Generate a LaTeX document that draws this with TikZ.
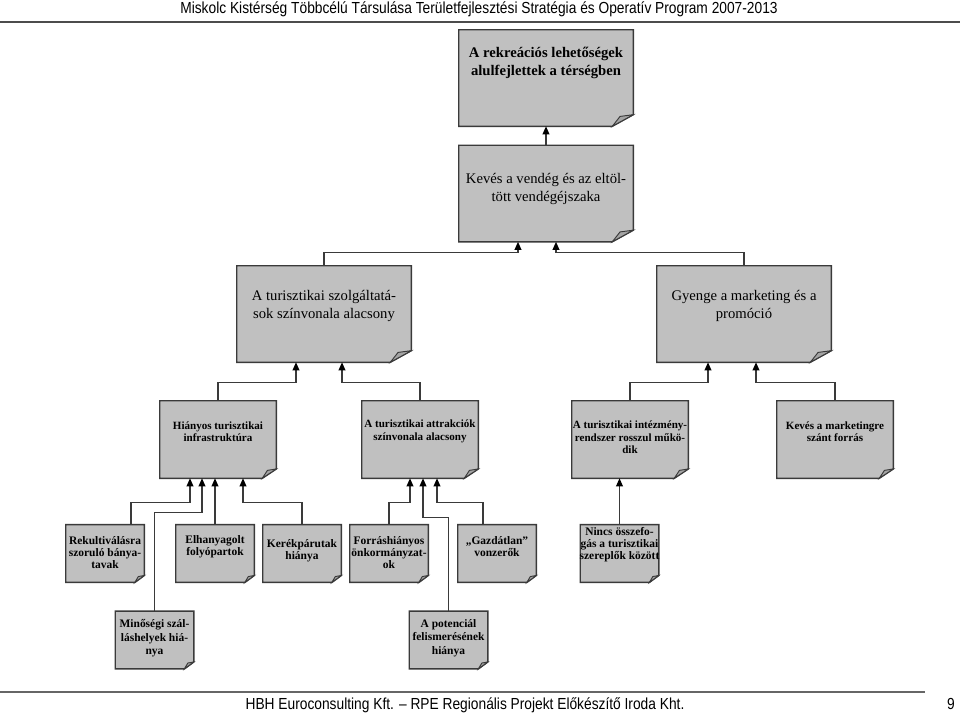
\documentclass[tikz,border=0pt]{standalone}
\usepackage{fontspec}
\setmainfont{Liberation Serif}
\newfontfamily\narrowsans[FakeStretch=0.86]{Liberation Sans}
\usetikzlibrary{arrows.meta, calc}

\definecolor{boxgray}{HTML}{C0C0C0}
\definecolor{foldgray}{HTML}{A4A4A4}
\definecolor{linegray}{HTML}{3A3A3A}

\tikzstyle{bignote} = [rectangle, inner sep=0pt, minimum width=130.5pt, minimum height=72pt, fill=boxgray]
\tikzstyle{midnote} = [rectangle, inner sep=0pt, minimum width=87pt, minimum height=57.75pt, fill=boxgray]
\tikzstyle{smallnote} = [rectangle, inner sep=0pt, minimum width=58.5pt, minimum height=43pt, fill=boxgray]
\tikzstyle{border} = [line width=1.1pt, draw=linegray, line join=miter]
\tikzstyle{bigtext} = [align=center, inner sep=0pt, font=\fontsize{11}{13.5}\selectfont]
\tikzstyle{midtext} = [align=center, inner sep=0pt, font=\bfseries\fontsize{8.3}{9.4}\selectfont]
\tikzstyle{smalltext} = [align=center, inner sep=0pt, font=\bfseries\fontsize{8.6}{9}\selectfont]
\tikzstyle{lowtext} = [align=center, inner sep=0pt, font=\bfseries\fontsize{8.6}{10}\selectfont]
\tikzstyle{arrow} = [line width=1pt, draw=linegray, -{Triangle[length=6pt, width=5pt, color=black]}]

\begin{document}
\begin{tikzpicture}[x=0.75pt, y=-0.75pt]
	\useasboundingbox (0,0) rectangle (960,714);

	% header and footer
	\node (head) [font=\narrowsans\fontsize{12}{14}\selectfont] at (479,9) {Miskolc Kistérség Többcélú Társulása Területfejlesztési Stratégia és Operatív Program 2007-2013};
	\draw [line width=1.5pt, draw=black!70] (0,22) -- (960,22);
	\draw [line width=1.2pt, draw=black!60] (0,692) -- (925,692);
	\node (foot) [font=\narrowsans\fontsize{12}{14}\selectfont] at (465,705) {HBH Euroconsulting Kft. – RPE Regionális Projekt Előkészítő Iroda Kht.};
	\node (page) [font=\narrowsans\fontsize{12}{14}\selectfont] at (951,704) {9};

	% boxes
	\node (rekr) [bignote] at (546,78) {};
	\node (kev) [bignote] at (546,193.5) {};
	\node (szolg) [bignote] at (324,314) {};
	\node (gyenge) [bignote] at (744,314) {};
	\node (hian) [midnote] at (218,439.5) {};
	\node (attr) [midnote] at (420,439.5) {};
	\node (intez) [midnote] at (630,439.5) {};
	\node (kevmark) [midnote] at (835,439.5) {};
	\node (rekult) [smallnote] at (105,553.5) {};
	\node (elhany) [smallnote] at (215,553.5) {};
	\node (kerek) [smallnote] at (302,553.5) {};
	\node (forras) [smallnote] at (389,553.5) {};
	\node (gazd) [smallnote] at (497,553.5) {};
	\node (nincs) [smallnote] at (619.5,553.5) {};
	\node (minos) [smallnote] at (154.5,640) {};
	\node (potenc) [smallnote] at (448.5,640) {};

	% folded corners
	\foreach \n in {rekr,kev,szolg,gyenge,hian,attr,intez,kevmark,rekult,elhany,kerek,forras,gazd,nincs,minos,potenc} {
		\coordinate (fa) at ($(\n.south east)!0.12!(\n.south west)$);
		\coordinate (fb) at ($(\n.south east)!0.12!(\n.north east)$);
		\fill [white] (fa) -- (\n.south east) -- (fb) -- cycle;
		\draw [border] (\n.north west) -- (\n.north east) -- (fb) -- (fa) -- (\n.south west) -- cycle;
		\draw [border, line width=0.7pt, fill=foldgray] (fa) -- ($(\n.south east)!0.63!(fa) + 0.85*(fb) - 0.85*(\n.south east)$) -- (fb) -- cycle;
	}

	% texts
	\node (rekrt) [bigtext, font=\bfseries\fontsize{11}{13.5}\selectfont] at (546,62.5) {A rekreációs lehetőségek\\alulfejlettek a térségben};
	\node (kevt) [bigtext] at (546,189) {Kevés a vendég és az eltöl-\\tött vendégéjszaka};
	\node (szolgt) [bigtext] at (324,306) {A turisztikai szolgáltatá-\\sok színvonala alacsony};
	\node (gyenget) [bigtext] at (744,306) {Gyenge a marketing és a\\promóció};
	\node (hiant) [midtext] at (218,431.5) {Hiányos turisztikai\\infrastruktúra};
	\node (attrt) [midtext] at (420,431.5) {A turisztikai attrakciók\\színvonala alacsony};
	\node (intezt) [midtext] at (630,437.5) {A turisztikai intézmény-\\rendszer rosszul műkö-\\dik};
	\node (kevmarkt) [midtext] at (835,431.5) {Kevés a marketingre\\szánt forrás};
	\node (rekultt) [smalltext] at (105,552.5) {Rekultiválásra\\szoruló bánya-\\tavak};
	\node (elhanyt) [smalltext] at (215,546.5) {Elhanyagolt\\folyópartok};
	\node (kerekt) [smalltext] at (302,550.5) {Kerékpárutak\\hiánya};
	\node (forrast) [smalltext] at (389,553) {Forráshiányos\\önkormányzat-\\ok};
	\node (gazdt) [smalltext] at (497,547) {„Gazdátlan”\\vonzerők};
	\node (nincst) [smalltext] at (619.5,545) {Nincs összefo-\\gás a turisztikai\\szereplők között};
	\node (minost) [lowtext] at (154.5,638.5) {Minőségi szál-\\láshelyek hiá-\\nya};
	\node (potenct) [lowtext] at (448.5,638) {A potenciál\\felismerésének\\hiánya};

	% connectors
	\draw [arrow] (kev.north) -- (rekr.south);
	\draw [arrow] (szolg.north) |- ($(kev.south)+(-28,11)$) -- ($(kev.south)+(-28,0)$);
	\draw [arrow] (gyenge.north) |- ($(kev.south)+(10,11)$) -- ($(kev.south)+(10,0)$);

	\draw [arrow] (hian.north) |- ($(szolg.south)+(-28,20)$) -- ($(szolg.south)+(-28,0)$);
	\draw [arrow] (attr.north) |- ($(szolg.south)+(18,20)$) -- ($(szolg.south)+(18,0)$);
	\draw [arrow] (intez.north) |- ($(gyenge.south)+(-36,20)$) -- ($(gyenge.south)+(-36,0)$);
	\draw [arrow] (kevmark.north) |- ($(gyenge.south)+(12,20)$) -- ($(gyenge.south)+(12,0)$);

	\draw [arrow] ($(rekult.north)+(26,0)$) |- ($(hian.south)+(-28,24)$) -- ($(hian.south)+(-28,0)$);
	\draw [arrow] (minos.north) |- ($(hian.south)+(-16,34)$) -- ($(hian.south)+(-16,0)$);
	\draw [arrow] (elhany.north) -- (elhany.north |- hian.south);
	\draw [arrow] (kerek.north) |- ($(hian.south)+(25,24)$) -- ($(hian.south)+(25,0)$);

	\draw [arrow] (forras.north) |- ($(attr.south)+(-10,24)$) -- ($(attr.south)+(-10,0)$);
	\draw [arrow] (potenc.north) |- ($(attr.south)+(3,39)$) -- ($(attr.south)+(3,0)$);
	\draw [arrow] ($(gazd.north)+(-14,0)$) |- ($(attr.south)+(17,24)$) -- ($(attr.south)+(17,0)$);
	\draw [arrow] (nincs.north) -- (nincs.north |- intez.south);
\end{tikzpicture}
\end{document}
